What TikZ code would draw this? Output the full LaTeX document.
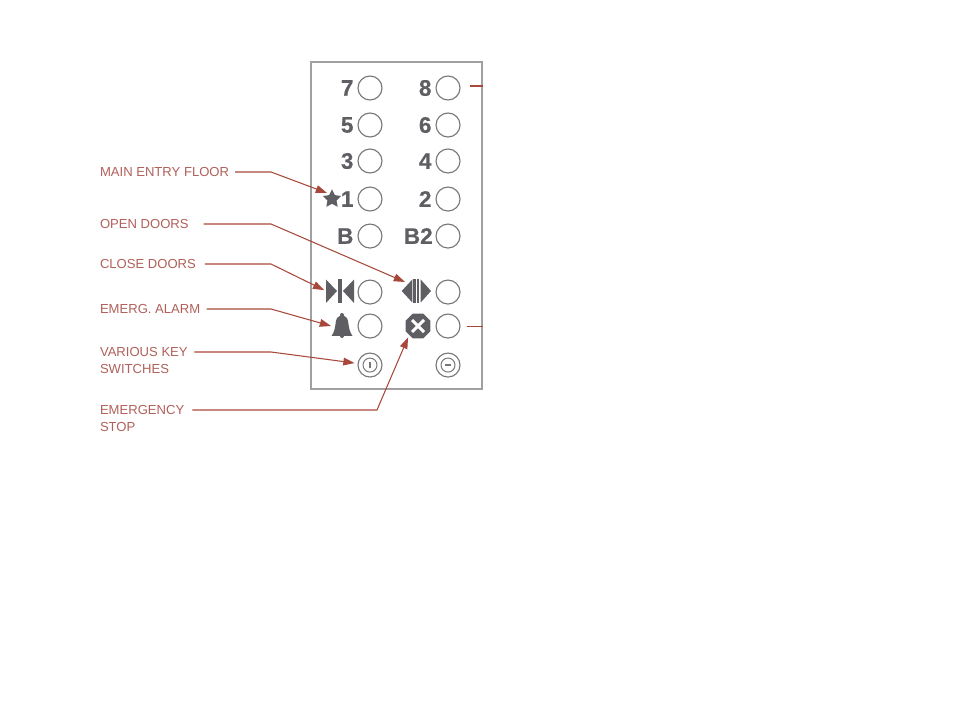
\documentclass[tikz,border=0pt]{standalone}
\usepackage{fontspec}
\setsansfont{Liberation Sans}
\newfontfamily\floorfont[FakeBold=0.5]{Liberation Sans Bold}
\usetikzlibrary{positioning, calc, arrows.meta, shapes.geometric}
\definecolor{panelLine}{HTML}{A0A0A0}
\definecolor{lampLine}{HTML}{77777B}
\definecolor{iconFill}{HTML}{5F5F63}
\definecolor{leaderLine}{HTML}{A8483A}
\definecolor{leaderText}{HTML}{B0605A}
\tikzset{
  panelbox/.style={draw=panelLine, line width=0.9pt, inner sep=0pt,
    minimum width=4.275cm, minimum height=8.175cm},
  lamp/.style={on grid, circle, draw=lampLine, line width=0.8pt, inner sep=0pt,
    minimum size=0.6cm},
  keyring/.style={circle, draw=lampLine, line width=0.7pt, inner sep=0pt,
    minimum size=0.35cm},
  floorlabel/.style={font=\floorfont\fontsize{16}{16}\selectfont, text=iconFill,
    inner sep=0pt, outer sep=0pt},
  iconspot/.style={inner sep=0pt, outer sep=0pt},
  calloutlabel/.style={anchor=west, align=left, inner sep=0pt, outer sep=0pt,
    font=\sffamily\fontsize{9.3}{12}\selectfont, text=leaderText},
  leader/.style={leaderLine, line width=0.75pt},
  leaderarrow/.style={leader, -{Triangle[length=8pt, width=5.5pt]}},
}
\begin{document}
\begin{tikzpicture}[x=0.025cm, y=-0.025cm]
  \useasboundingbox (0,0) rectangle (960,720);

  % === Panel ===
  \node[panelbox] (panel) at (396.5,225.5) {};

  % === Lamps: left column ===
  \node[lamp] (lamp7) at (370,88) {};
  \node[lamp, below=0.925cm of lamp7] (lamp5) {};
  \node[lamp, below=0.9cm of lamp5] (lamp3) {};
  \node[lamp, below=0.95cm of lamp3] (lamp1) {};
  \node[lamp, below=0.925cm of lamp1] (lampB) {};
  \node[lamp, below=1.4cm of lampB] (lampclose) {};
  \node[lamp, below=0.85cm of lampclose] (lampalarm) {};
  \node[lamp, below=0.975cm of lampalarm] (keyleft) {};

  % === Lamps: right column ===
  \node[lamp, right=1.95cm of lamp7] (lamp8) {};
  \node[lamp, right=1.95cm of lamp5] (lamp6) {};
  \node[lamp, right=1.95cm of lamp3] (lamp4) {};
  \node[lamp, right=1.95cm of lamp1] (lamp2) {};
  \node[lamp, right=1.95cm of lampB] (lampBB) {};
  \node[lamp, right=1.95cm of lampclose] (lampopen) {};
  \node[lamp, right=1.95cm of lampalarm] (lampstop) {};
  \node[lamp, right=1.95cm of keyleft] (keyright) {};

  % === Floor numbers ===
  \node[floorlabel, left=0.1cm of lamp7.west] (num7) {7};
  \node[floorlabel, left=0.1cm of lamp5.west] (num5) {5};
  \node[floorlabel, left=0.1cm of lamp3.west] (num3) {3};
  \node[floorlabel, left=0.1cm of lamp1.west] (num1) {1};
  \node[floorlabel, left=0.1cm of lampB.west] (numB) {B};
  \node[floorlabel, left=0.1cm of lamp8.west] (num8) {8};
  \node[floorlabel, left=0.1cm of lamp6.west] (num6) {6};
  \node[floorlabel, left=0.1cm of lamp4.west] (num4) {4};
  \node[floorlabel, left=0.1cm of lamp2.west] (num2) {2};
  \node[floorlabel, left=0.07cm of lampBB.west] (numBB) {B2};

  % === Icons ===
  \node[star, star points=5, star point ratio=2.0, fill=iconFill, iconspot,
    minimum size=0.48cm] (mainstar) at (332,199) {};

  % doors closing
  \node[iconspot, minimum width=0.7cm, minimum height=0.6cm] (closeicon) at (340,291) {};
  \fill[iconFill] (326,279.5) -- (337,291) -- (326,303) -- cycle;
  \fill[iconFill] (338,279) rectangle (342,303);
  \fill[iconFill] (354,279.5) -- (343,291) -- (354,303) -- cycle;

  % doors opening
  \node[iconspot, minimum width=0.575cm, minimum height=0.45cm] (openicon) at (416.5,291) {};
  \fill[iconFill] (412.3,279.5) -- (401.7,291) -- (412.3,302.5) -- cycle;
  \fill[iconFill] (413.3,279) rectangle (415.7,303);
  \fill[iconFill] (417,279) rectangle (419.4,303);
  \fill[iconFill] (420.7,279.5) -- (431,291) -- (420.7,302.5) -- cycle;

  % alarm bell
  \node[iconspot, minimum width=0.55cm, minimum height=0.6cm] (bell) at (342,326) {};
  \fill[iconFill] (331.5,336) .. controls (334.5,332) and (335.2,327) .. (335.7,322.5)
    .. controls (336.2,318) and (338.5,316) .. (340.5,315.5) -- (343.5,315.5)
    .. controls (345.5,316) and (347.8,318) .. (348.3,322.5)
    .. controls (348.8,327) and (349.5,332) .. (352.5,336) -- cycle;
  \fill[iconFill] (342,315) circle (0.05cm);
  \fill[iconFill] (342,336) circle (0.05cm);

  % emergency stop
  \node[regular polygon, regular polygon sides=8, fill=iconFill, iconspot,
    minimum size=0.675cm] (stopicon) at (418,326) {};
  \draw[white, line width=2.2pt] ($(stopicon)+(-6,-6)$) -- ($(stopicon)+(6,6)$);
  \draw[white, line width=2.2pt] ($(stopicon)+(-6,6)$) -- ($(stopicon)+(6,-6)$);

  % key switches
  \node[keyring] (keyleftin) at (keyleft) {};
  \node[keyring] (keyrightin) at (keyright) {};
  \draw[lampLine, line width=0.9pt] ($(keyleftin)+(0,-3)$) -- ($(keyleftin)+(0,3)$);
  \draw[lampLine, line width=0.9pt] ($(keyrightin)+(-3,0)$) -- ($(keyrightin)+(3,0)$);

  % === Callout labels ===
  \node[calloutlabel] (lblmain) at (100,172) {MAIN ENTRY FLOOR};
  \node[calloutlabel] (lblopen) at (100,224) {OPEN DOORS};
  \node[calloutlabel] (lblclose) at (100,264) {CLOSE DOORS};
  \node[calloutlabel] (lblalarm) at (100,309) {EMERG. ALARM};
  \node[calloutlabel] (lblkeys) at (100,360.5) {VARIOUS KEY\\SWITCHES};
  \node[calloutlabel] (lblstop) at (100,418.5) {EMERGENCY\\STOP};

  % === Bends of the leaders ===
  \coordinate (bendmain) at (271,172);
  \coordinate (bendopen) at (271,224);
  \coordinate (bendclose) at (271,264);
  \coordinate (bendalarm) at (271,309);
  \coordinate (bendkeys) at (271,352);
  \coordinate (bendstop) at (377,410);
  \coordinate (startip) at (327,193);

  % === Leaders ===
  \draw[leaderarrow] ([xshift=0.15cm]lblmain.east) -- (bendmain) -- (startip);
  \draw[leaderarrow] ([xshift=0.375cm]lblopen.east) -- (bendopen) -- (openicon.north west);
  \draw[leaderarrow, shorten >=0.05cm] ([xshift=0.225cm]lblclose.east) -- (bendclose) -- (closeicon.west);
  \draw[leaderarrow] ([xshift=0.16cm]lblalarm.east) -- (bendalarm) -- (bell.west);
  \draw[leaderarrow, shorten >=0.075cm] ([xshift=0.17cm]lblkeys.east |- bendkeys) -- (bendkeys) -- (keyleft);
  \draw[leaderarrow, shorten >=0.07cm] ([xshift=0.2cm]lblstop.east |- bendstop) -- (bendstop) -- (stopicon.225);

  % === Stubs at the panel edge ===
  \draw[leader] ([xshift=0.225cm, yshift=0.05cm]lamp8.east) -- ([yshift=0.05cm]panel.east |- lamp8.east);
  \draw[leader] ([xshift=0.15cm]lampstop.east) -- (panel.east |- lampstop.east);

\end{tikzpicture}
\end{document}
